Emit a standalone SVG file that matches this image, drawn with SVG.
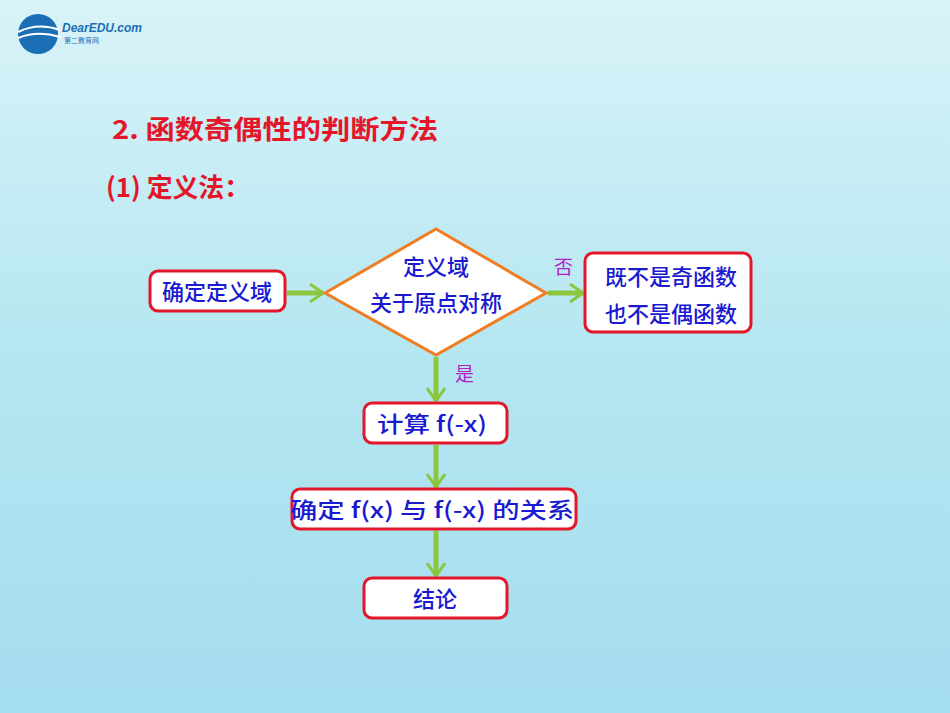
<svg xmlns="http://www.w3.org/2000/svg" width="950" height="713" viewBox="0 0 950 713">
<defs>
<linearGradient id="bg" x1="0" y1="0" x2="0" y2="1">
<stop offset="0" stop-color="#d9f3f8"/><stop offset="0.5" stop-color="#b4e6f1"/><stop offset="1" stop-color="#a4ddef"/>
</linearGradient>
<marker id="ah" viewBox="0 0 16 20" refX="14" refY="10" markerWidth="16" markerHeight="20" markerUnits="userSpaceOnUse" orient="auto">
<path d="M1,1 L14,10 L1,19" fill="none" stroke="#8cc63f" stroke-width="3"/>
</marker>
<style>
.box{fill:#fff;stroke:#e3162a;stroke-width:3}
.t{font-family:"Noto Sans CJK SC",sans-serif;font-size:22px;fill:#1a1ad0;text-anchor:middle;font-weight:500}
.h{font-family:"Noto Sans CJK SC",sans-serif;font-size:26px;fill:#e3162a;font-weight:bold}
.lab{font-family:"Noto Sans CJK SC",sans-serif;font-size:19px;fill:#b21fc6}
.c{stroke:#8cc63f;stroke-width:5;fill:none;marker-end:url(#ah)}
</style>
</defs>
<rect width="950" height="713" fill="url(#bg)"/>
<g id="logo">
<circle cx="38" cy="34" r="20" fill="#1a6fb5"/>
<path d="M18,32 Q38,22 60,30 M18,38 Q38,30 60,37" stroke="#fff" stroke-width="2" fill="none"/>
<text x="62" y="32" font-family="Liberation Sans,sans-serif" font-size="12" font-weight="bold" font-style="italic" fill="#1a6fb5">DearEDU.com</text>
<text x="64" y="43" font-family="Noto Sans CJK SC,sans-serif" font-size="7" fill="#1a6fb5">第二教育网</text>
</g>
<text class="h" x="112" y="139" textLength="326" lengthAdjust="spacingAndGlyphs">2. 函数奇偶性的判断方法</text>
<text class="h" x="106" y="197" textLength="144" lengthAdjust="spacingAndGlyphs">(1) 定义法：</text>
<g id="connectors">
<line class="c" x1="287" y1="293" x2="323" y2="293"/>
<line class="c" x1="548" y1="293" x2="583" y2="293"/>
<line class="c" x1="436" y1="357" x2="436" y2="401"/>
<line class="c" x1="436" y1="445" x2="436" y2="487"/>
<line class="c" x1="436" y1="531" x2="436" y2="576"/>
</g>
<text class="lab" x="554" y="274">否</text>
<text class="lab" x="455" y="381">是</text>
<g id="n1"><rect class="box" x="150" y="271" width="135" height="40" rx="8"/><text class="t" x="217" y="300">确定定义域</text></g>
<g id="n2"><polygon points="325,293 436,229 546,293 436,355" fill="#fff" stroke="#f07d22" stroke-width="3"/><text class="t" x="436" y="275">定义域</text><text class="t" x="436" y="311">关于原点对称</text></g>
<g id="n3"><rect class="box" x="585" y="253" width="166" height="79" rx="8"/><text class="t" x="671" y="285">既不是奇函数</text><text class="t" x="671" y="322">也不是偶函数</text></g>
<g id="n4"><rect class="box" x="364" y="403" width="143" height="40" rx="8"/><text class="t" x="377" y="432" text-anchor="start" textLength="110" lengthAdjust="spacingAndGlyphs" style="text-anchor:start">计算 f(-x)</text></g>
<g id="n5"><rect class="box" x="292" y="489" width="284" height="40" rx="8"/><text class="t" x="290" y="518" textLength="284" lengthAdjust="spacingAndGlyphs" style="text-anchor:start">确定 f(x) 与 f(-x) 的关系</text></g>
<g id="n6"><rect class="box" x="364" y="578" width="143" height="40" rx="8"/><text class="t" x="435" y="607">结论</text></g>
</svg>
